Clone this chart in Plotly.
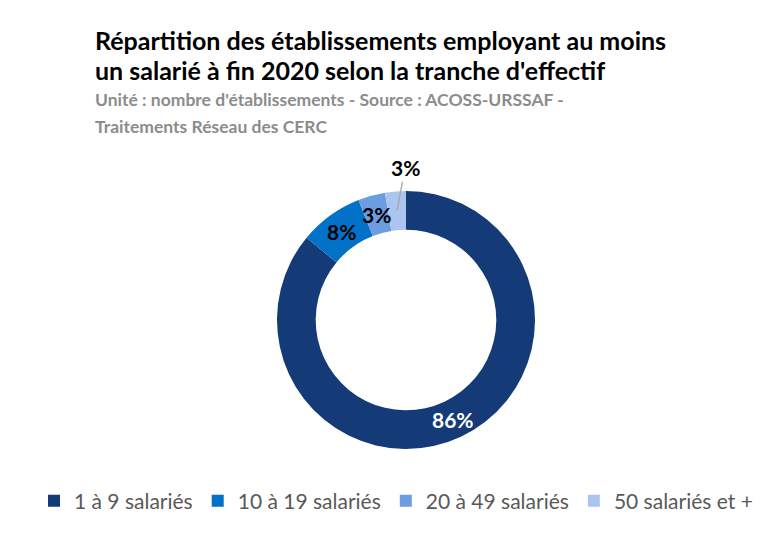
import math
import plotly.graph_objects as go

categories = ["1 à 9 salariés", "10 à 19 salariés", "20 à 49 salariés", "50 salariés et +"]
shares = [86.0, 8.0, 3.4, 2.6]
colors = ["#143A78", "#0272C9", "#6B9DE0", "#ACC5EE"]
label_colors = ["white", "black", "black", "black"]
label_outside = [False, False, False, True]

title_lines = ["Répartition des établissements employant au moins",
               "un salarié à fin 2020 selon la tranche d'effectif"]
subtitle_lines = ["Unité : nombre d'établissements - Source : ACOSS-URSSAF -",
                  "Traitements Réseau des CERC"]

W, H = 779, 539
OFF = 8  # page body margin
FONT = "Lato"

# pie geometry (pixels in figure coords)
CX, CY, R = 406 - OFF, 320 - OFF, 129
HOLE = 0.70

fig = go.Figure()
fig.add_trace(go.Pie(
    labels=categories,
    values=shares,
    sort=False,
    direction="clockwise",
    rotation=0,
    hole=HOLE,
    marker=dict(colors=colors, line=dict(width=0)),
    textinfo="none",
    domain=dict(x=[(CX - R) / W, (CX + R) / W], y=[1 - (CY + R) / H, 1 - (CY - R) / H]),
    hoverinfo="label+percent",
))

annotations = []
# percentage labels placed at each slice's mid angle
total = sum(shares)
cum = 0.0
rmid = R * (1 + HOLE) / 2
for v, c, out in zip(shares, label_colors, label_outside):
    mid = (cum + v / 2) / total * 2 * math.pi
    cum += v
    px = CX + math.sin(mid) * rmid
    py = CY - math.cos(mid) * rmid
    txt = f"{round(v / total * 100):d}%"
    font = dict(family=FONT, size=21, color=c, weight="bold")
    if out:
        annotations.append(dict(text=txt, x=px / W, y=1 - py / H, xref="paper", yref="paper",
                                showarrow=True, arrowhead=0, arrowwidth=1.3, arrowcolor="#A6A6A6",
                                ax=8, ay=-43, standoff=0, font=font))
    else:
        annotations.append(dict(text=txt, x=px / W, y=1 - py / H, xref="paper", yref="paper",
                                showarrow=False, xanchor="center", yanchor="middle", font=font))

for i, t in enumerate(title_lines):
    annotations.append(dict(text=t, x=(93 - OFF) / W, y=1 - (40 + 30 * i - OFF) / H, xref="paper", yref="paper",
                            xanchor="left", yanchor="middle", showarrow=False,
                            font=dict(family=FONT, size=25, color="black", weight="bold")))
for i, t in enumerate(subtitle_lines):
    annotations.append(dict(text=t, x=(93 - OFF) / W, y=1 - (100 + 26 * i - OFF) / H, xref="paper", yref="paper",
                            xanchor="left", yanchor="middle", showarrow=False,
                            font=dict(family=FONT, size=17.5, color="#8C8C8C", weight="bold")))

fig.update_layout(
    width=W, height=H,
    margin=dict(l=0, r=0, t=0, b=0),
    paper_bgcolor="white",
    plot_bgcolor="white",
    annotations=annotations,
    showlegend=True,
    legend=dict(orientation="h", x=(396 - OFF) / W, xanchor="center", y=1 - (501 - OFF) / H, yanchor="middle",
                font=dict(family=FONT, size=21, color="#595959"), traceorder="normal",
                itemwidth=30),
)

fig.write_html("out.html")
